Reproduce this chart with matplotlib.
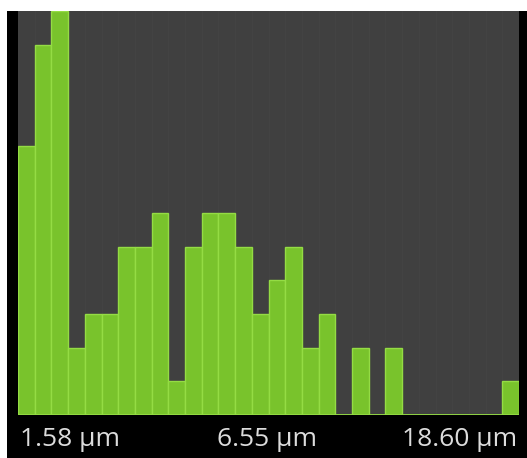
"""Particle size histogram, dark style (green bins on gray)."""

import matplotlib

matplotlib.use("Agg")
import matplotlib.pyplot as plt

# ---- data: count per size bin (30 bins, left to right) ----
bin_counts = [8, 11, 12, 2, 3, 3, 5, 5, 6, 1,
              5, 6, 6, 5, 3, 4, 5, 2, 3, 0,
              2, 0, 2, 0, 0, 0, 0, 0, 0, 1]
tick_labels = ["1.58 µm", "6.55 µm", "18.60 µm"]

W, H = 527, 458
BAR_FACE = "#79c32c"
BAR_EDGE = "#94dc44"
PLOT_BG = "#404040"
TEXT_COL = "#dcdcdc"


def main() -> None:
    plt.rcParams["font.family"] = ["Open Sans", "DejaVu Sans"]
    fig = plt.figure(figsize=(W / 100, H / 100), dpi=100)
    fig.patch.set_facecolor("white")

    # black frame behind the plot (white strip at the very top)
    frame = fig.add_axes([7 / W, 0, 1 - 7 / W, (H - 11) / H], zorder=0)
    frame.axis("off")
    frame.add_patch(plt.Rectangle((0, 0), 1, 1, transform=frame.transAxes,
                                  facecolor="black", edgecolor="none"))

    left, right, top, bottom = 18, 519, 11, 415
    ax = fig.add_axes([left / W, 1 - bottom / H, (right - left) / W, (bottom - top) / H], zorder=1)
    ax.set_facecolor(PLOT_BG)
    n = len(bin_counts)
    ax.set_xlim(0, n)
    ax.set_ylim(0, max(bin_counts))

    # very faint bin separators in the background
    for i in range(1, n):
        ax.axvline(i, color="#434343", linewidth=0.8, zorder=1)

    ax.bar(range(n), bin_counts, width=1.0, align="edge", color=BAR_FACE,
           edgecolor=BAR_EDGE, linewidth=1.0, zorder=3)
    ax.axhline(0, color=BAR_EDGE, linewidth=2.0, zorder=4)

    for s in ax.spines.values():
        s.set_visible(False)
    ax.set_xticks([])
    ax.set_yticks([])

    # range labels under the plot
    y_lab = 1 - 440 / H
    fig.text(20 / W, y_lab, tick_labels[0], ha="left", va="center", fontsize=19, color=TEXT_COL, zorder=5)
    fig.text(267 / W, y_lab, tick_labels[1], ha="center", va="center", fontsize=19, color=TEXT_COL, zorder=5)
    fig.text(517 / W, y_lab, tick_labels[2], ha="right", va="center", fontsize=19, color=TEXT_COL, zorder=5)

    fig.savefig("out.png", dpi=100, facecolor=fig.get_facecolor())
    plt.close(fig)


if __name__ == "__main__":
    main()
